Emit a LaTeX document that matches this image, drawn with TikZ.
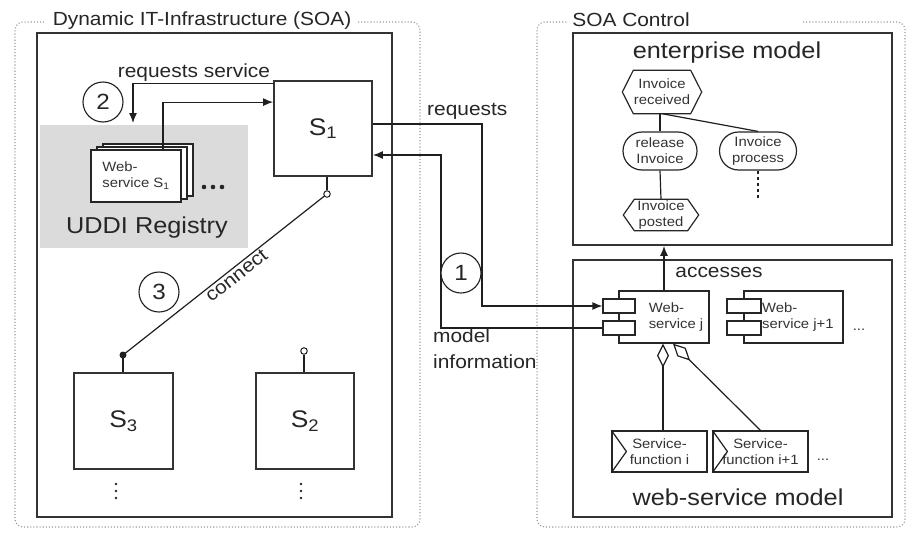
\documentclass[tikz,border=0pt]{standalone}
\usepackage{fontspec}
\setmainfont[FakeStretch=1.1]{Liberation Sans}
\usetikzlibrary{arrows.meta,shapes.misc,calc}

% hexagonal outline around a named node (events of the process model)
\newcommand\hexpath[1]{%
  \draw[comp, fill=none] (#1.west) -- ([xshift=11pt]#1.north west) -- ([xshift=-11pt]#1.north east)
    -- (#1.east) -- ([xshift=-11pt]#1.south east) -- ([xshift=11pt]#1.south west) -- cycle;}

\tikzset{
  frame/.style={draw=black!80, line width=1.8pt, inner sep=0pt},
  zone/.style={draw=black!40, line width=1.1pt, dotted},
  wire/.style={draw=black!88, line width=1.2pt},
  arr/.style={wire, -{Latex[length=10pt,width=8pt]}},
  agg/.style={wire, -{Diamond[open,length=24pt,width=12pt]}},
  num/.style={circle, draw=black!88, line width=1.1pt, minimum size=40pt, inner sep=0pt,
    font=\fontsize{22}{22}\selectfont, text=black!85},
  lbl/.style={font=\fontsize{19}{26}\selectfont, text=black!85, inner sep=1pt},
  big/.style={font=\fontsize{23}{26}\selectfont, text=black!85, inner sep=0pt},
  tiny/.style={font=\fontsize{13.5}{16}\selectfont, align=center, inner sep=0pt, text=black!80},
  sbox/.style={frame, fill=white, font=\fontsize{24}{24}\selectfont, text=black!85},
  comp/.style={draw=black!85, line width=1.2pt, fill=white, inner sep=0pt},
  pinopen/.style={circle, draw=black!88, line width=1pt, fill=white, minimum size=6.5pt, inner sep=0pt},
  pinfull/.style={circle, fill=black!88, minimum size=7pt, inner sep=0pt},
}

\begin{document}
\begin{tikzpicture}[x=1pt,y=-1pt]
\useasboundingbox (0,0) rectangle (909,533);

% ---------- dotted zones with their titles ----------
\draw[zone, rounded corners=8pt] (358,22) -- (420,22) -- (420,527) -- (15,527) -- (15,22) -- (46,22);
\node[lbl] (tleft) at (202,21) {Dynamic IT-Infrastructure (SOA)};
\draw[zone, rounded corners=8pt] (803,22) -- (905,22) -- (905,527) -- (537,527) -- (537,22) -- (568,22);
\node[lbl] (tright) at (631,20) {SOA Control};

% ---------- infrastructure ----------
\node[frame, minimum width=355pt, minimum height=484pt] (infra) at (214.5,275) {};
\node[fill=black!14, minimum width=208pt, minimum height=123pt, inner sep=0pt] (uddi) at (144,186.5) {};

% registry entries (stacked cards)
\node[comp, minimum width=90pt, minimum height=52pt] (card3) at (148,170) {};
\node[comp, minimum width=90pt, minimum height=52pt] (card2) at (142,173) {};
\node[comp, tiny, align=left, minimum width=90pt, minimum height=52pt] (card) at (136,176) {Web-\\service S\textsubscript{1}};
\foreach \x in {204,213,222} \fill[black!85] (\x,187) circle (2.3pt);
\node[big] (uddilbl) at (147,228) {UDDI Registry};

\node[num] (n2) at (103,102) {2};

% services
\node[sbox, minimum width=98pt, minimum height=95pt] (s1) at (323,128.5) {S\textsubscript{1}};
\node[sbox, minimum width=99pt, minimum height=96pt] (s3) at (123.5,421) {S\textsubscript{3}};
\node[sbox, minimum width=98pt, minimum height=96pt] (s2) at (305,421) {S\textsubscript{2}};

% request to the registry and its answer
\coordinate (rqdown) at (133,123);
\draw[arr] ($(s1.north west)+(0,3)$) -| (rqdown);
\node[lbl] (rqs) at (194,73) {requests service};
\draw[arr] ($(card.north)+(27,0)$) |- ($(s1.north west)+(0,22)$);

% connection pins
\node[pinopen] (p1) at (327,194) {};
\draw[wire] (p1.north) -- (p1.north |- s1.south);
\node[pinfull] (p3) at (123,355) {};
\draw[wire] (p3.center) -- (p3 |- s3.north);
\node[pinopen] (p2) at (304,351) {};
\draw[wire] (p2.south) -- (p2.south |- s2.north);

\draw[wire] (p3.center) -- (p1) node[pos=0.54, sloped, below, lbl] (conlbl) {connect};
\node[num] (n3) at (159,292) {3};

\foreach \y in {484,491,498} {
  \fill[black!85] (116,\y) circle (1.4pt);
  \fill[black!85] (301,\y) circle (1.4pt);
}

% ---------- SOA control ----------
\node[frame, minimum width=319pt, minimum height=212pt] (ent) at (732.5,139) {};
\node[big] (entlbl) at (727,53) {enterprise model};
\node[frame, minimum width=319pt, minimum height=257pt] (wsm) at (732.5,388.5) {};
\node[big] (wsmlbl) at (738,497) {web-service model};

% process model
\node[tiny, minimum width=79pt, minimum height=43pt] (recv) at (662,92) {Invoice\\received};
\hexpath{recv}
\node[comp, tiny, rounded rectangle, minimum width=74pt, minimum height=38pt] (rel) at (660,151) {release\\Invoice};
\node[comp, tiny, rounded rectangle, minimum width=77pt, minimum height=38pt] (proc) at (758,151) {Invoice\\process};
\node[tiny, minimum width=75pt, minimum height=31pt] (post) at (661,215) {Invoice\\posted};
\hexpath{post}
\draw[wire] (rel.north |- recv.south) -- (rel.north);
\draw[wire] (rel.south) -- (post.north);
\draw[wire] (recv.south) -- (proc.north);
\draw[wire, dashed] (proc.south) -- ($(proc.south)+(0,27)$);

% web-service components
\node[comp, minimum width=90pt, minimum height=52pt] (wsj) at (664,317) {};
\node[comp, minimum width=32pt, minimum height=14pt] (wsja) at (619,306) {};
\node[comp, minimum width=32pt, minimum height=14pt] (wsjb) at (619,328) {};
\node[tiny, align=left] (wsjtxt) at (676,317) {Web-\\service j};
\node[comp, minimum width=99pt, minimum height=52pt] (wsk) at (793.5,317) {};
\node[comp, minimum width=34pt, minimum height=14pt] (wska) at (744,306) {};
\node[comp, minimum width=34pt, minimum height=14pt] (wskb) at (744,328) {};
\node[tiny, align=left, anchor=west] (wsktxt) at (762,317) {Web-\\service j+1};
\node[tiny] (wskdots) at (859,330) {...};

\draw[arr] (wsj.north) -- (wsj.north |- ent.south);
\node[lbl] (acc) at (719,272) {accesses};

% service functions
\node[comp, tiny, minimum width=95pt, minimum height=41pt] (sfi) at (659.5,451.5) {Service-\\function i};
\draw[wire] (sfi.north west) -- ($(sfi.west)+(15,0)$) -- (sfi.south west);
\node[comp, tiny, minimum width=95pt, minimum height=41pt] (sfk) at (760.5,451.5) {Service-\\function i+1};
\draw[wire] (sfk.north west) -- ($(sfk.west)+(15,0)$) -- (sfk.south west);
\node[tiny] (sfdots) at (823,460) {...};

\coordinate (agg1) at ($(wsj.south)+(-1,0)$);
\draw[agg] (agg1 |- sfi.north) -- (agg1);
\coordinate (agg2) at ($(wsj.south)+(9,0)$);
\draw[agg] (sfk.north) -- (agg2);

% ---------- links between infrastructure and control ----------
\coordinate (rqx) at (482,200);
\coordinate (rqa) at ($(s1.east)+(0,-4.5)$);
\draw[arr] (rqa) -| (rqx |- wsja.west) -- (wsja.west);
\node[lbl, anchor=west] (rqlbl) at (426,111) {requests};

\coordinate (mix) at (441,200);
\coordinate (s1in) at ($(s1.east)+(0,26.5)$);
\draw[arr] (wsjb.west) -| (mix |- s1in) -- (s1in);

\node[num, fill=white] (n1) at (461,273) {1};
\node[lbl, align=left, anchor=north west] (milbl) at (432,328) {model\\information};
\end{tikzpicture}
\end{document}
